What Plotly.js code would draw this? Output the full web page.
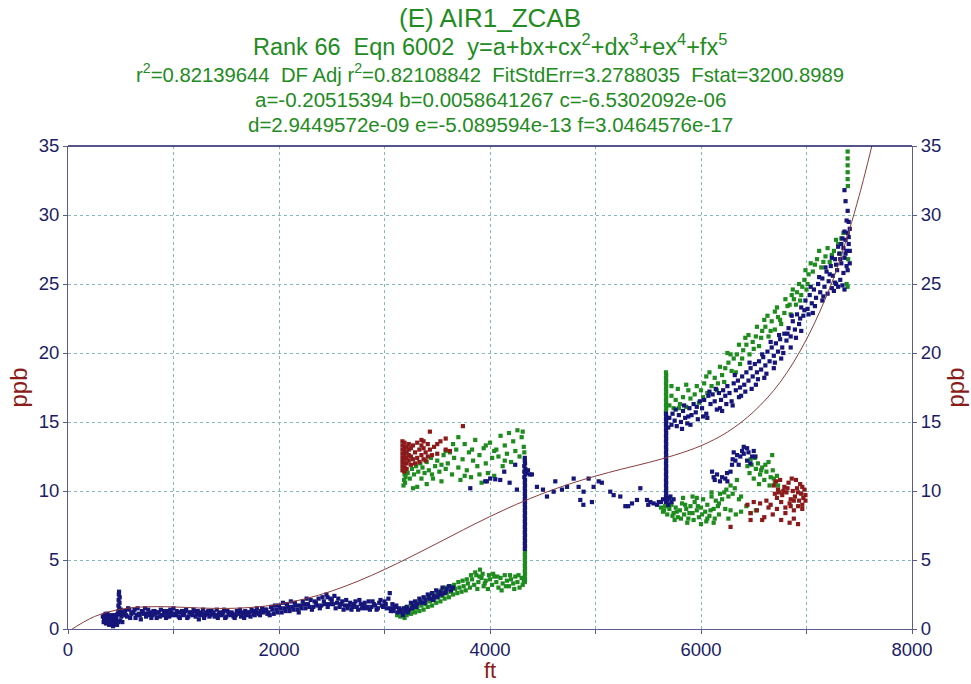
<!DOCTYPE html>
<html>
<head>
<meta charset="utf-8">
<script src="https://cdn.plot.ly/plotly-3.0.1.min.js"></script>
<style>html,body{margin:0;padding:0;background:#fff;}#chart{width:971px;height:684px;}</style>
</head>
<body>
<div id="chart"></div>
<script>
// ---- Fit curve ----
const fitX = [0,250,500,750,1000,1250,1500,1750,2000,2250,2500,2750,3000,3250,3500,3750,4000,4250,4500,4750,5000,5250,5500,5750,6000,6250,6500,6750,7000,7250,7400,7500,7600,7650];
const fitY = [-0.2,0.9,1.43,1.61,1.6,1.52,1.49,1.57,1.8,2.19,2.75,3.47,4.31,5.24,6.21,7.2,8.15,9.03,9.82,10.5,11.08,11.59,12.06,12.6,13.28,14.27,15.75,17.88,20.99,25.29,28.78,31.42,34.39,36.01];

// ---- Navy points ----
const navyStart = [[330,0.9],[338,0.5],[345,1.0],[352,0.7],[360,0.4],[367,0.8],[375,1.1],[382,0.6],[390,0.3],[397,0.9],[405,0.5],[412,1.0],[420,0.7],[427,0.2],[435,0.6],[442,1.0],[450,0.4],[457,0.8],[465,0.3],[470,1.1],[478,1.3],[478,1.7],[480,2.1],[482,2.5],[484,2.7],[486,1.5],[488,1.9],[490,2.3],[492,1.1],[495,0.6],[500,1.4],[505,0.9],[510,1.2],[515,0.5],[520,1.0],[342,0.8],[356,1.1],[371,0.5],[386,0.9],[401,0.7],[416,0.4],[431,0.9],[446,0.7],[461,1.0],[474,0.5]];
const navyFlat = [[540,1.3],[560,0.9],[580,1.4],[600,1.1],[620,1.2],[640,0.8],[660,1.5],[680,1.0],[700,1.3],[720,1.1],[740,0.9],[760,1.4],[780,1.2],[800,1.0],[820,1.3],[840,0.8],[860,1.2],[880,1.4],[900,1.0],[920,1.1],[940,1.3],[960,0.9],[980,1.2],[1000,1.5],[1020,1.0],[1040,1.2],[1060,0.8],[1080,1.3],[1100,1.1],[1120,1.4],[1140,0.9],[1160,1.2],[1180,1.0],[1200,1.3],[1220,1.1],[1240,0.7],[1260,1.2],[1280,1.4],[1300,1.0],[1320,1.1],[1340,0.9],[1360,1.3],[1380,1.2],[1400,1.0],[1420,0.8],[1440,1.2],[1460,1.1],[1480,1.4],[1500,0.9],[1520,1.2],[1540,1.0],[1560,1.1],[1580,0.8],[1600,1.3],[1620,1.2],[1640,0.9],[1660,1.1],[1680,1.3],[1700,1.0],[1720,1.2],[1740,1.4],[1760,1.1],[1780,1.3],[1800,1.2],[1820,1.0],[1840,1.5],[1860,1.3],[1880,1.4],[1900,1.2],
[550,1.0],[570,1.5],[590,0.8],[610,1.2],[630,1.4],[650,1.0],[670,1.1],[690,0.7],[710,1.2],[730,1.5],[750,1.1],[770,1.0],[790,0.8],[810,1.3],[830,1.1],[850,1.2],[870,0.9],[890,1.0],[910,1.3],[930,0.8],[950,1.1],[970,1.4],[990,1.0],[1010,1.1],[1030,1.3],[1050,0.9],[1070,1.2],[1090,1.0],[1110,1.3],[1130,0.8],[1150,1.2],[1170,1.1],[1190,1.4],[1210,0.9],[1230,1.3],[1250,1.0],[1270,1.1],[1290,0.8],[1310,1.2],[1330,1.3],[1350,1.0],[1370,1.1],[1390,0.9],[1410,1.4],[1430,1.1],[1450,1.0],[1470,1.2],[1490,0.8],[1510,1.3],[1530,1.1],[1550,1.2],[1570,0.9],[1590,1.0],[1610,1.1],[1630,1.4],[1650,1.2],[1670,0.8],[1690,1.1],[1710,1.2],[1730,0.9],[1750,1.3],[1770,1.0],[1790,1.5],[1810,1.1],[1830,1.3],[1850,1.2],[1870,1.4],[1890,1.1]];
const navyMid = [[1925,1.6],[1950,1.1],[1975,1.4],[2000,1.7],[2025,1.2],[2050,1.5],[2075,1.8],[2100,1.3],[2125,1.6],[2150,1.9],[2175,1.4],[2200,1.7],[2225,2.0],[2250,1.5],[2275,1.8],[2300,2.1],[2325,1.6],[2350,1.9],[2375,2.2],[2400,1.7],[2425,2.0],[2450,2.5],[2460,2.3],[2475,1.8],[2500,2.1],[2525,2.4],[2550,1.9],[2575,1.6],[2600,2.0],[2625,1.7],[2650,1.5],[2675,1.9],[2700,1.6],[2725,2.0],[2750,1.4],[2775,1.8],[2800,1.7],[2825,1.5],[2850,2.0],[2875,1.6],[2900,1.8],[2925,1.4],[2950,1.9],[2975,1.7],[3000,2.0],[3025,1.5],[3050,2.6],[3060,1.3],[3075,1.8],[3100,1.6],[3125,1.2],[3150,1.4],[3175,1.0],[3200,1.3],
[1912,1.0],[1937,1.4],[1962,1.7],[1987,1.2],[2012,1.5],[2037,1.9],[2062,1.3],[2087,1.6],[2112,2.0],[2137,1.4],[2162,1.7],[2187,1.2],[2212,1.5],[2237,1.8],[2262,2.2],[2287,1.6],[2312,1.4],[2337,2.0],[2362,1.7],[2387,1.5],[2412,2.3],[2437,1.8],[2462,1.6],[2487,2.2],[2512,1.8],[2537,1.5],[2562,2.2],[2587,1.8],[2612,1.4],[2637,2.1],[2662,1.7],[2687,1.4],[2712,1.8],[2737,1.6],[2762,2.1],[2787,1.5],[2812,1.9],[2837,1.6],[2862,1.4],[2887,2.0],[2912,1.7],[2937,1.5],[2962,2.1],[2987,1.6],[3012,1.8],[3037,2.2],[3062,1.5],[3087,1.3],[3112,1.7],[3137,1.5],[3162,1.2],[3187,1.5]];
const navyRise = [[3210,1.6],[3230,1.4],[3250,1.9],[3270,1.7],[3290,2.0],[3310,1.8],[3330,2.2],[3350,1.9],[3370,2.3],[3390,2.1],[3410,2.5],[3430,2.2],[3450,2.6],[3470,2.4],[3490,2.8],[3510,2.5],[3530,2.7],[3550,3.0],[3570,2.6],[3590,2.9],[3610,3.1],[3630,2.8],[3650,3.0],[3220,1.2],[3260,1.5],[3300,1.6],[3340,2.0],[3380,1.9],[3420,2.3],[3460,2.1],[3500,2.3],[3540,2.5],[3580,2.7]];
const navyStep1 = [[4330,5.8],[4332,6.0],[4330,6.2],[4332,6.4],[4330,6.6],[4332,6.8],[4330,7.0],[4332,7.2],[4330,7.4],[4332,7.6],[4330,7.8],[4332,8.0],[4330,8.2],[4332,8.4],[4330,8.6],[4332,8.8],[4330,9.0],[4332,9.2],[4330,9.4],[4332,9.6],[4330,9.8],[4332,10.0],[4330,10.2],[4332,10.4],[4330,10.6],[4332,10.8],[4325,11.0],[4335,11.2],[4325,11.4],[4335,11.6],[4325,11.8],[4332,12.0],[4330,12.2],[4330,12.4],[4345,11.3],[4360,11.5],[4380,11.2]];
const navyMiddle = [[3813,10.2],[3955,10.7],[3970,10.7],[4002,10.9],[4050,10.85],[4097,10.8],[4135,11.4],[4186,10.6],[4239,11.9],[4255,10.1],[4397,11.2],[4445,10.3],[4502,10.1],[4540,9.6],[4603,9.95],[4619,10.7],[4682,10.1],[4730,10.3],[4793,10.9],[4840,10.3],[4856,9.35],[4885,9.0],[4887,9.95],[4935,10.9],[4966,9.2],[4982,10.3],[5030,10.7],[5060,10.6],[5140,9.95],[5172,9.7],[5235,9.6],[5283,8.9],[5310,8.9],[5346,9.1],[5393,9.35],[5425,10.2],[5488,9.35],[5500,9.0],[5520,9.2],[5550,9.1],[5583,9.0],[5600,9.2],[5620,9.2],[5640,9.4]];
const navyStep2 = [[5668,9.2],[5670,9.4],[5668,9.6],[5670,9.8],[5668,10.0],[5670,10.2],[5668,10.4],[5670,10.6],[5668,10.8],[5670,11.0],[5668,11.2],[5670,11.4],[5668,11.6],[5670,11.8],[5668,12.0],[5670,12.2],[5668,12.4],[5670,12.6],[5668,12.8],[5670,13.0],[5668,13.2],[5670,13.4],[5668,13.6],[5670,13.8],[5668,14.0],[5670,14.2],[5668,14.4],[5670,14.6],[5668,14.8],[5670,15.0],[5668,15.2],[5670,15.4],[5668,15.6],[5680,9.3],[5700,9.5],[5720,9.2],[5740,9.4],[5690,9.0],[5710,9.6]];
const navyLowRight = [[6105,11.4],[6152,11.2],[6200,11.0],[6247,11.3],[6280,11.4],[6294,11.9],[6326,12.2],[6357,11.9],[6373,12.5],[6405,12.7],[6437,12.2],[6468,12.0],[6516,12.5],[6405,13.2],[6437,13.1],[6484,12.5],[6310,12.8],[6342,12.6],[6130,10.8],[6180,10.7],[6230,10.9],[6250,10.7],[6120,11.0],[6300,12.3],[6390,12.9],[6450,12.8],[6500,12.9]];
const navyUpper = [[5690,14.6],[5700,15.3],[5720,14.8],[5730,15.6],[5750,15.1],[5770,14.7],[5790,15.5],[5810,15.0],[5830,15.8],[5850,15.3],[5870,14.9],[5890,16.0],[5910,15.5],[5930,16.3],[5950,15.7],[5970,15.2],[5990,16.5],[6010,16.0],[6030,16.6],[6050,15.6],[6070,16.9],[6090,16.3],[6110,17.0],[6130,16.5],[6150,15.9],[6170,17.1],[6190,16.6],[6210,17.3],[6230,16.9],[6250,17.6],[6270,17.1],[6290,16.5],[6310,17.8],[6330,17.3],[6350,18.0],[6370,17.5],[6390,18.3],[6410,17.7],[6430,18.6],[6450,18.0],[6470,18.9],[6490,18.3],[6510,19.2],[6530,18.6],[6550,19.4],[6570,18.8],[6590,19.7],[6610,19.1],[6630,20.1],[6650,19.4],[6670,20.4],[6690,19.8],[6710,20.7],[6730,20.1],[6750,21.0],[6770,20.4],[6790,21.4],[6810,20.9],[6830,21.8],[6850,21.2],[6870,22.3],[6890,21.7],[6910,22.8],[6930,22.1],[6950,23.3],[6970,22.7],[6990,23.8],[7010,23.2],[7030,24.2],[7050,23.6],[7070,24.6],[7090,24.0],[7110,25.0],[7130,24.4],[7150,25.4],[7170,24.8],[7190,25.9],[7210,25.2],[7230,26.3],[7250,25.6],[7270,26.8],[7290,26.0],[7310,27.2],[7330,26.5],[7350,27.6],[7360,26.9],[7370,28.2],[7380,27.4],[7390,28.7],[7400,27.9],[7410,29.0],[7380,29.6],[7390,30.3],[7370,31.0],[7360,31.8],[7400,28.4],[7350,25.8],[7320,25.3],[7300,24.8],[7280,25.0],[7260,24.5],[7200,24.3],[7340,24.9],[7390,26.0],[7410,26.5],[7360,24.6],
[6300,16.2],[6480,17.4],[6520,17.7],[6600,18.2],[6690,18.9],[6760,19.6],[6850,20.4],[5820,14.5],[5900,14.8],[6060,15.3],[6200,15.8],[6380,16.9],[6950,21.6],[7060,22.9],[7150,23.8],
[5760,15.9],[5840,16.2],[5880,15.4],[5960,16.1],[6020,15.4],[6080,17.2],[6140,17.4],[6180,16.0],[6240,16.3],[6320,18.4],[6360,16.8],[6420,17.2],[6460,19.3],[6540,18.1],[6580,19.9],[6620,18.5],[6660,20.8],[6700,19.3],[6740,21.3],[6780,20.0],[6820,21.4],[6860,22.7],[6900,21.1],[6940,22.5],[6980,23.1],[7020,22.8],[7040,24.8],[7080,23.4],[7120,25.5],[7160,24.1],[7180,26.2],[7220,25.7],[7240,26.9],[7280,26.4],[7300,27.7],[7320,26.8],[7340,28.3],[7370,27.2],[7400,29.5],[7410,27.4],[7380,26.3],[7360,28.8],[7330,27.9],[7270,25.1],[7240,24.7]];

// ---- Green points ----
const greenRise = [[3120,1.0],[3150,0.9],[3170,1.2],[3190,0.8],[3210,1.0],[3230,1.3],[3250,1.1],[3270,1.4],[3290,1.2],[3310,1.5],[3330,1.3],[3350,1.7],[3370,1.4],[3390,1.8],[3410,1.6],[3430,2.0],[3450,1.7],[3470,2.1],[3490,1.9],[3510,2.3],[3530,2.0],[3550,2.4],[3570,2.2],[3590,2.6],[3610,2.3],[3630,2.7],[3650,2.5],[3670,2.9],[3690,2.6],[3710,3.0],[3730,2.7],[3750,3.1],[3770,2.8],[3790,3.3],[3810,3.0],[3830,3.6],[3850,3.2],[3870,3.9],[3890,3.4],[3905,4.3],[3920,3.7],[3940,3.1],[3960,3.5],[3980,2.9],[4000,3.6],[4020,3.2],[4040,3.8],[4060,3.4],[4080,3.0],[4100,3.7],[4120,3.3],[4140,3.9],[4160,3.5],[4180,3.1],[4200,3.6],[4220,3.3],[4240,3.8],[4260,3.4],[4280,3.0],[4300,3.7],[4320,3.5],
[3140,1.3],[3180,1.5],[3220,1.6],[3260,1.7],[3300,1.9],[3340,2.0],[3380,2.2],[3420,2.4],[3460,2.5],[3500,2.7],[3540,2.8],[3580,3.0],[3620,3.1],[3660,3.2],[3700,3.4],[3740,3.5],[3780,3.6],[3820,3.9],[3860,4.1],[3880,2.9],[3900,3.8],[3930,4.0],[3950,3.3],[3990,3.9],[4030,4.0],[4070,3.8],[4110,2.8],[4150,3.1],[4190,3.9],[4230,2.9],[4270,3.9],[4310,3.2]];
const greenStep1 = [[4330,3.4],[4332,3.6],[4330,3.8],[4332,4.0],[4330,4.2],[4332,4.4],[4330,4.6],[4332,4.8],[4330,5.0],[4332,5.2],[4330,5.4],[4332,5.6]];
const greenCloud = [[3180,10.4],[3185,10.8],[3190,11.2],[3195,10.6],[3200,11.0],[3180,11.5],[3220,11.3],[3240,10.9],[3260,11.6],[3280,11.2],[3300,11.8],[3320,11.4],[3340,12.0],[3360,11.7],[3380,11.3],[3400,12.1],[3420,11.5],[3440,12.4],[3310,10.3],[3350,10.9],[3400,10.5],[3460,10.9],[3480,11.8],[3500,12.2],[3520,11.4],[3540,10.7],[3560,12.6],[3580,11.6],[3600,12.0],[3620,12.8],[3640,11.2],[3660,12.4],[3680,13.0],[3700,11.7],[3720,10.8],[3740,12.3],[3760,13.4],[3780,11.5],[3800,12.8],[3820,11.0],[3840,12.2],[3860,13.7],[3880,11.8],[3900,12.6],[3920,10.6],[3940,13.1],[3960,12.0],[3980,11.3],[4000,13.5],[4020,12.4],[4040,11.1],[4060,13.0],[4080,12.5],[4100,14.0],[4120,11.8],[4140,13.3],[4160,12.7],[4180,14.2],[4200,12.1],[4220,13.6],[4240,12.9],[4260,14.4],[4280,12.5],[4300,13.9],[4310,14.3],[4320,13.2],[4325,12.8],[3650,13.4],[3700,13.9],[3580,12.9],[3450,11.2],[3270,10.2],[3540,11.9],[3900,11.2],[3760,11.1],[4040,12.9],[4140,12.2],[3830,13.0],[3960,13.3]];
const greenStep2 = [[5668,15.8],[5670,16.0],[5668,16.2],[5670,16.4],[5668,16.6],[5670,16.8],[5668,17.0],[5670,17.2],[5668,17.4],[5670,17.6],[5668,17.8],[5670,18.0],[5668,18.2],[5670,18.4],[5668,18.6]];
const greenLowRight = [[5620,8.8],[5640,8.5],[5660,8.9],[5680,8.3],[5700,8.7],[5720,9.0],[5740,8.4],[5760,8.8],[5780,8.1],[5800,8.6],[5820,9.1],[5840,8.3],[5860,8.7],[5880,8.0],[5900,8.9],[5920,8.4],[5940,9.2],[5960,8.6],[5980,8.1],[6000,8.8],[6020,9.4],[6040,8.5],[6060,9.0],[6080,8.2],[6100,9.6],[6120,8.7],[6140,9.3],[6160,8.9],[6180,9.8],[5650,8.6],[5690,8.9],[5730,8.2],[5770,8.5],[5810,8.0],[5850,9.0],[5890,8.4],[5930,7.9],[5970,8.9],[6010,8.3],[6050,7.8],[6090,8.6],[6130,8.0],[6170,9.1],[5750,7.9],[5870,7.7],[6000,7.6],[6120,7.7],[6200,9.4],[6220,9.9],[6240,10.1],[6260,9.6],[6280,10.4],[6300,9.8],[6320,10.2],[6340,10.8],[6360,9.4],[6230,8.7],[6280,8.6],[6330,8.3],[6380,8.5],[6430,8.9],[6470,8.4],[6520,8.6],[6170,8.3],[6260,8.0],[6380,9.6],[6060,8.0],[5920,9.6],[5830,9.5],[5960,9.5],[6100,9.9],
[6440,11.8],[6460,11.3],[6480,11.9],[6500,10.9],[6520,11.6],[6540,12.0],[6560,11.2],[6580,11.7],[6600,10.8],[6620,11.4],[6640,12.1],[6660,11.0],[6680,11.5],[6700,10.6],[6720,11.1],[6730,10.4],[6470,12.3],[6550,10.5],[6610,11.9],[6690,10.9],[6675,12.6],[6650,10.4],[6570,11.5],[6510,12.4]];
const greenUpper = [[5700,16.2],[5720,16.9],[5740,16.0],[5760,16.6],[5800,16.3],[5830,16.8],[5860,16.1],[5900,16.7],[5940,17.0],[5980,16.4],[6000,17.3],[6030,17.8],[6060,17.1],[6100,17.6],[6130,18.2],[6160,17.8],[6200,18.4],[6230,18.9],[6260,19.3],[6290,18.7],[6310,19.6],[6340,19.9],[6370,19.2],[6400,20.2],[6430,20.6],[6460,19.9],[6490,20.8],[6520,21.2],[6550,20.5],[6580,21.6],[6610,21.9],[6640,21.2],[6670,22.3],[6700,21.7],[6730,22.6],[6760,22.1],[6790,22.9],[6820,23.4],[6850,22.8],[6880,23.9],[6910,24.4],[6940,23.8],[6960,24.8],[6980,25.3],[7000,24.6],[7020,25.7],[7040,26.5],[7060,25.9],[7100,26.8],[7140,26.2],[7180,27.0],[7220,26.6],[7260,27.4],[7300,27.9],[7330,28.3],[7380,25.0],[7390,24.8],[7390,32.6],[7390,33.1],[7390,33.6],[7390,34.1],[7390,34.6],[7392,32.1],[6050,18.3],[6250,20.0],[6420,21.1],[6600,22.4],[5780,17.4],[5860,17.7],[6700,23.0],[6860,24.2],
[5720,17.6],[5790,16.0],[5880,17.3],[5960,17.6],[6020,16.8],[6080,18.6],[6150,17.3],[6180,19.0],[6220,17.9],[6280,19.9],[6330,18.6],[6360,20.6],[6390,19.6],[6450,21.3],[6500,20.3],[6530,21.9],[6570,21.1],[6630,22.7],[6660,21.6],[6720,23.3],[6750,22.4],[6800,23.9],[6840,23.5],[6870,24.6],[6900,23.5],[6930,25.0],[6950,24.2],[6990,26.0],[7010,25.0],[7080,26.4],[7120,27.4],[7160,26.6],[7200,27.6],[7240,27.1],[7280,28.2],[7320,27.2],[7350,28.7],[7395,26.8]];

// ---- Dark red points ----
const redLeft = [[3170,11.5],[3170,11.8],[3170,12.1],[3170,12.4],[3170,12.7],[3170,13.0],[3170,13.3],[3170,13.6],[3190,11.4],[3190,11.7],[3190,12.0],[3190,12.3],[3190,12.6],[3190,12.9],[3190,13.2],[3190,13.5],[3210,11.6],[3210,12.0],[3210,12.4],[3210,12.8],[3210,13.2],[3230,12.2],[3230,12.6],[3230,13.0],[3230,13.4],[3250,11.9],[3250,12.5],[3250,13.1],[3270,12.3],[3270,13.3],[3290,12.0],[3290,12.8],[3310,12.4],[3310,13.5],[3330,12.1],[3330,13.0],[3350,12.6],[3350,13.7],[3350,13.3],[3370,12.3],[3370,13.1],[3370,13.6],[3390,12.8],[3390,12.2],[3410,13.4],[3410,12.5],[3430,13.0],[3430,14.3],[3450,12.6],[3470,13.2],[3500,13.4],[3500,12.7],[3530,13.6],[3580,13.8],[3580,13.0],[3620,12.9],[3743,14.7]];
const redRight = [[6690,10.4],[6710,10.7],[6730,10.1],[6750,10.8],[6770,9.7],[6790,10.3],[6810,9.9],[6830,10.6],[6850,9.4],[6870,10.0],[6890,9.6],[6910,10.2],[6930,9.3],[6950,9.8],[6970,9.5],[6980,10.1],[6990,9.7],[6720,9.5],[6760,9.2],[6800,8.8],[6840,9.1],[6880,8.6],[6920,8.9],[6960,8.7],[6940,10.5],[6900,10.8],[6860,10.9],[6820,10.2],[6780,10.0],[6740,9.9],[6700,9.8],[6960,9.0],[6990,9.3],[6880,9.3],[6850,8.9],[6920,9.9],[6960,10.3],
[6440,9.0],[6470,8.4],[6500,9.2],[6530,8.6],[6560,9.1],[6600,8.1],[6640,8.8],[6680,8.3],[6720,8.7],[6760,7.9],[6800,8.4],[6840,7.7],[6880,8.0],[6920,7.6],[6470,7.9],[6280,7.4],[6620,9.3],[6580,7.9],[6660,9.0]];

// ---- Tick labels ----
const xTickVals = [0,1000,2000,3000,4000,5000,6000,7000,8000];
const xTickText = ['0','','2000','','4000','','6000','','8000'];
const yTickVals = [0,5,10,15,20,25,30,35];

const titleLines = [
  '(E) AIR1_ZCAB',
  'Rank 66  Eqn 6002  y=a+bx+cx<sup>2</sup>+dx<sup>3</sup>+ex<sup>4</sup>+fx<sup>5</sup>',
  'r<sup>2</sup>=0.82139644  DF Adj r<sup>2</sup>=0.82108842  FitStdErr=3.2788035  Fstat=3200.8989',
  'a=-0.20515394 b=0.0058641267 c=-6.5302092e-06',
  'd=2.9449572e-09 e=-5.089594e-13 f=3.0464576e-17'
];

const navy = [].concat(navyStart, navyFlat, navyMid, navyRise, navyStep1, navyMiddle, navyStep2, navyLowRight, navyUpper);
const green = [].concat(greenRise, greenStep1, greenCloud, greenStep2, greenLowRight, greenUpper);
const red = [].concat(redLeft, redRight);

const NAVY = '#15157a', GREEN = '#1e8c1e', RED = '#8c1a1a';
function pts(arr, color){
  return {x: arr.map(p=>p[0]), y: arr.map(p=>p[1]), type:'scatter', mode:'markers',
    marker:{symbol:'square', size:4.2, color:color, line:{width:0}}, hoverinfo:'skip', showlegend:false};
}
const traces = [
  pts(green, GREEN), pts(red, RED), pts(navy, NAVY),
  {x: fitX, y: fitY, type:'scatter', mode:'lines', line:{color:'#8b3c3c', width:1, shape:'spline'}, yaxis:'y2', hoverinfo:'skip', showlegend:false}
];

const FONT = 'Liberation Sans, Arial, sans-serif';
const titleY = [18, 45, 73, 99, 124];
const titleSize = [26, 23.5, 20.3, 20.5, 20.5];
const plotTop = 146, plotBot = 629;
const annotations = titleLines.map((t,i)=>({
  text: t, xref:'paper', yref:'paper', x:0.5, y:(plotBot - titleY[i])/(plotBot-plotTop),
  xanchor:'center', yanchor:'middle', showarrow:false,
  font:{family:FONT, size:titleSize[i], color:'#228b22'}
}));
// x-axis title as an annotation just below the tick labels
annotations.push({text:'ft', xref:'paper', yref:'paper', x:0.5, y:(plotBot - 684)/(plotBot-plotTop),
  xanchor:'center', yanchor:'bottom', showarrow:false, borderpad:0,
  font:{family:FONT, size:22, color:'#8b1a1a'}});

const axisCommon = {
  showgrid:true, gridcolor:'#86baba', griddash:'dot', gridwidth:1,
  zeroline:false, showline:true, linecolor:'#5c5c8c', linewidth:1,
  ticks:'outside', ticklen:4, tickcolor:'#5c5c8c',
  tickfont:{family:FONT, size:18.5, color:'#1c1c66'}
};

const layout = {
  width:971, height:684,
  margin:{l:68, r:59, t:146, b:55, pad:0},
  paper_bgcolor:'#ffffff', plot_bgcolor:'#ffffff',
  showlegend:false,
  annotations: annotations,
  xaxis: Object.assign({}, axisCommon, {range:[0,8000], tickmode:'array', tickvals:xTickVals, ticktext:xTickText, automargin:false}),
  yaxis: Object.assign({}, axisCommon, {range:[0,35], tickmode:'array', tickvals:yTickVals,
    title:{text:'ppb', font:{family:FONT, size:24, color:'#8b1a1a'}, standoff:4}, automargin:false}),
  yaxis2: Object.assign({}, axisCommon, {range:[0,35], tickmode:'array', tickvals:yTickVals, overlaying:'y', side:'right', showgrid:false,
    title:{text:'ppb', font:{family:FONT, size:24, color:'#8b1a1a'}, standoff:6}, automargin:false}),
  shapes:[{type:'line', xref:'paper', yref:'paper', x0:0, x1:1, y0:1, y1:1, line:{color:'#1c1c66', width:1.5}}]
};

Plotly.newPlot('chart', traces, layout, {staticPlot:true, displayModeBar:false});
</script>
</body>
</html>
